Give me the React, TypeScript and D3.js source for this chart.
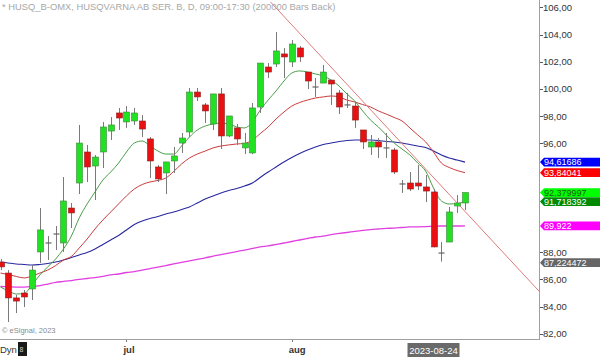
import React from "react";
import * as d3 from "d3";

// ---- data (prices) ----
const opens = [87.27, 86.46, 84.63, 84.99, 85.29, 88.01, 88.65, 89.31, 88.67, 91.24, 93.08, 95.36, 94.33, 95.36, 96.9, 98.23, 97.57, 97.64, 97.64, 96.32, 94.26, 93.82, 94.7, 96.02, 96.83, 99.77, 98.82, 97.42, 99.63, 96.54, 97.13, 95.66, 95.29, 98.67, 101.61, 101.83, 102.57, 101.98, 103.01, 101.24, 100.16, 100.43, 100.65, 99.7, 98.84, 98.74, 96.98, 95.73, 96.1, 95.68, 95.51, 93.03, 93.08, 93.08, 92.79, 92.42, 87.95, 88.74, 91.39, 91.61];
const highs = [87.49, 86.68, 84.85, 85.21, 87.05, 91.24, 89.18, 89.92, 93.52, 91.61, 97.35, 95.88, 95.14, 97.57, 97.93, 98.6, 98.74, 98.6, 98.08, 96.46, 94.4, 94.63, 95.73, 96.76, 100.07, 100.07, 98.96, 99.63, 100.07, 98.01, 97.42, 96.76, 98.96, 101.9, 101.9, 104.18, 103.01, 103.6, 103.15, 101.24, 100.8, 101.76, 100.65, 99.92, 99.7, 99.04, 96.98, 96.61, 96.39, 96.76, 95.66, 93.3, 93.89, 94.4, 93.67, 92.64, 88.74, 91.32, 92.2, 92.38];
const lows = [86.68, 82.86, 83.52, 83.96, 84.48, 87.2, 87.42, 88.15, 88.01, 89.77, 92.27, 93.15, 91.83, 94.18, 96.24, 96.98, 97.13, 97.35, 96.46, 93.45, 93.15, 92.27, 93.82, 95.29, 96.46, 99.11, 97.49, 96.98, 95.58, 96.46, 95.88, 95.21, 95.2, 98.23, 100.8, 101.61, 100.8, 101.61, 101.98, 99.99, 99.41, 100.43, 98.82, 98.15, 98.6, 97.13, 95.58, 95.14, 94.92, 94.92, 93.74, 92.35, 92.49, 92.57, 91.68, 88.35, 87.3, 88.74, 90.88, 91.1];
const closes = [86.91, 84.63, 84.4, 84.7, 86.68, 89.63, 88.69, 89.35, 91.76, 90.88, 96.02, 94.26, 94.99, 97.2, 97.35, 97.86, 98.3, 98.23, 97.05, 94.7, 93.38, 94.63, 95.07, 96.39, 99.77, 99.41, 98.38, 99.63, 96.54, 98.01, 96.32, 96.02, 98.6, 101.9, 101.24, 102.79, 102.35, 103.3, 102.35, 100.58, 100.12, 101.24, 100.36, 98.67, 98.8, 97.71, 96.1, 96.1, 95.73, 95.64, 93.89, 92.99, 92.64, 92.86, 92.49, 88.38, 87.91, 90.95, 91.61, 92.38];

const maGreen = [85.43, 85.14, 84.92, 84.96, 85.58, 86.32, 86.91, 87.49, 88.23, 89.18, 90.51, 91.54, 92.42, 93.3, 93.89, 94.55, 95.36, 96.02, 96.17, 95.8, 95.43, 95.21, 95.21, 95.8, 96.46, 96.98, 97.27, 97.42, 97.49, 97.42, 97.2, 97.13, 97.57, 98.45, 99.18, 99.85, 100.58, 101.17, 101.32, 101.24, 101.1, 100.95, 100.65, 100.21, 99.63, 99.11, 98.38, 97.71, 97.2, 96.61, 96.02, 95.58, 95.14, 94.55, 93.96, 92.71, 91.76, 91.54, 91.57, 91.718];
const maRed = [86.46, 86.35, 86.21, 86.1, 86.24, 86.46, 86.68, 87.01, 87.42, 87.68, 88.3, 88.96, 89.7, 90.36, 90.95, 91.54, 92.13, 92.64, 92.97, 93.16, 93.27, 93.45, 93.93, 94.48, 94.92, 95.21, 95.43, 95.66, 95.8, 95.88, 95.95, 95.99, 96.24, 96.72, 97.2, 97.79, 98.3, 98.74, 99.0, 99.18, 99.33, 99.41, 99.48, 99.41, 99.18, 99.04, 98.85, 98.67, 98.38, 98.15, 97.9, 97.64, 97.13, 96.61, 96.1, 95.36, 94.55, 94.22, 94.0, 93.84];
const maBlue = [87.27, 87.2, 87.13, 87.09, 87.05, 87.09, 87.16, 87.27, 87.42, 87.6, 87.79, 87.97, 88.23, 88.56, 88.89, 89.22, 89.63, 90.03, 90.29, 90.47, 90.62, 90.8, 90.95, 91.13, 91.32, 91.61, 91.9, 92.13, 92.35, 92.53, 92.68, 92.86, 93.08, 93.49, 93.89, 94.26, 94.63, 94.96, 95.25, 95.51, 95.73, 95.91, 96.02, 96.13, 96.21, 96.24, 96.24, 96.24, 96.21, 96.13, 96.1, 96.02, 95.91, 95.8, 95.69, 95.43, 95.14, 94.92, 94.77, 94.617];
const maMagenta = [85.47, 85.45, 85.43, 85.43, 85.47, 85.54, 85.65, 85.77, 85.84, 85.91, 85.99, 86.06, 86.13, 86.21, 86.32, 86.39, 86.5, 86.57, 86.68, 86.79, 86.9, 87.01, 87.13, 87.24, 87.35, 87.46, 87.57, 87.71, 87.82, 87.93, 88.04, 88.15, 88.27, 88.38, 88.45, 88.56, 88.67, 88.78, 88.89, 89.0, 89.11, 89.18, 89.29, 89.37, 89.44, 89.52, 89.59, 89.66, 89.7, 89.74, 89.77, 89.81, 89.85, 89.86, 89.88, 89.9, 89.92, 89.92, 89.92, 89.922];

const trendIdx = [34.3, 68.5];
const trendPrice = [106.39, 85.07];

const yTicks = [82, 84, 86, 88, 96, 98, 100, 102, 104, 106];
const monthLabels = ["jul", "aug"];
const monthIdx = [16, 37];
const cursorIdx = 55;
const cursorLabel = "2023-08-24";

const labelValues = [94.61686, 93.84041, 92.379997, 91.718392, 89.922, 87.224472];
const labelFills = ["#0000ff", "#ff0000", "#00ff00", "#008a00", "#ff00ff", "#666666"];
const labelText = ["#ffffff", "#ffffff", "#1a5a1a", "#ffffff", "#ffffff", "#ffffff"];

const title = "* HUSQ_B-OMX, HUSQVARNA AB SER. B, D, 09:00-17:30 (200000 Bars Back)";

export default function App() {
  const W = 600, H = 357;
  const plotR = 539, plotB = 339;
  const x = d3.scaleLinear().domain([0, 59]).range([0.5, 465]);
  const y = d3.scaleLinear().domain([82, 106]).range([333.7, 7.3]);
  const idx = d3.range(opens.length);
  const line = (vals: number[]) =>
    d3.line<number>().x((_, i) => x(i)).y((v) => y(v)).curve(d3.curveMonotoneX)(vals) || "";
  const font = "'Liberation Sans', Arial, sans-serif";
  const bw = 6;
  const fmt = (v: number) => String(v).replace(".", ",");

  return (
    <svg width={W} height={H} style={{ position: "fixed", left: 0, top: 0, background: "#fff" }} fontFamily={font}>
      <defs>
        <clipPath id="plot">
          <rect x={0} y={0} width={plotR} height={plotB} />
        </clipPath>
      </defs>
      <rect x={0} y={0} width={W} height={H} fill="#fff" />
      <g clipPath="url(#plot)">
        <path d={line(maMagenta)} fill="none" stroke="#e040e0" strokeWidth={1.3} />
        <path d={line(maBlue)} fill="none" stroke="#2828a0" strokeWidth={1.1} />
        <path d={line(maRed)} fill="none" stroke="#c83c3c" strokeWidth={1} />
        <path d={line(maGreen)} fill="none" stroke="#4a9e4a" strokeWidth={1} />
        <line x1={x(trendIdx[0])} y1={y(trendPrice[0])} x2={x(trendIdx[1])} y2={y(trendPrice[1])} stroke="#e07a7a" strokeWidth={1} />
        {idx.map((i) => {
          const o = opens[i], c = closes[i], h = highs[i], l = lows[i];
          const cx = Math.round(x(i)) + 0.5;
          const top = y(Math.max(o, c)), bot = y(Math.min(o, c));
          const up = c > o;
          const doji = Math.abs(bot - top) < 1.2;
          return (
            <g key={i}>
              <line x1={cx} x2={cx} y1={y(h)} y2={y(l)} stroke="#7a7a7a" strokeWidth={1} />
              {doji ? (
                <line x1={cx - bw / 2} x2={cx + bw / 2} y1={(top + bot) / 2} y2={(top + bot) / 2} stroke="#666" strokeWidth={1.2} />
              ) : (
                <rect x={cx - bw / 2} y={top} width={bw} height={bot - top}
                  fill={up ? "#22e022" : "#e81010"} stroke={up ? "#3d8a3d" : "#8a2020"} strokeWidth={0.6} />
              )}
            </g>
          );
        })}
      </g>
      {/* title */}
      <text x={2} y={10} fontSize={9.4} fill="#a8a8a8">{title}</text>
      <text x={2} y={333} fontSize={7.5} fill="#8a8a8a">© eSignal, 2023</text>
      {/* frame */}
      <line x1={plotR + 0.5} x2={plotR + 0.5} y1={0} y2={plotB + 1} stroke="#a0a0a0" strokeWidth={1} />
      <line x1={0} x2={plotR + 1} y1={plotB + 0.5} y2={plotB + 0.5} stroke="#a0a0a0" strokeWidth={1} />
      {/* y axis */}
      {yTicks.map((t) => (
        <g key={t}>
          <line x1={plotR + 1} x2={plotR + 4} y1={Math.round(y(t)) + 0.5} y2={Math.round(y(t)) + 0.5} stroke="#555" />
          <text x={plotR + 4} y={y(t) + 3.5} fontSize={9.5} fill="#333">{t.toFixed(2).replace(".", ",")}</text>
        </g>
      ))}
      {labelValues.map((v, i) => {
        const yy = y(v);
        const hh = 4.4;
        return (
          <g key={i}>
            <path d={`M${plotR + 1},${yy} L${plotR + 5},${yy - hh} L${W},${yy - hh} L${W},${yy + hh} L${plotR + 5},${yy + hh} Z`} fill={labelFills[i]} />
            <text x={plotR + 5} y={yy + 3.2} fontSize={9} fill={labelText[i]}>{fmt(v)}</text>
          </g>
        );
      })}
      {/* x axis */}
      {monthLabels.map((m, i) => (
        <g key={m}>
          <line x1={Math.round(x(monthIdx[i])) + 0.5} x2={Math.round(x(monthIdx[i])) + 0.5} y1={plotB + 1} y2={plotB + 3} stroke="#777" />
          <text x={x(monthIdx[i]) - 3} y={353} fontSize={9.5} fontWeight="bold" fill="#333">{m}</text>
        </g>
      ))}
      <rect x={x(cursorIdx) - 26} y={343} width={52} height={14} fill="#6a6a6a" />
      <text x={x(cursorIdx)} y={353.5} fontSize={9.5} fill="#fff" textAnchor="middle">{cursorLabel}</text>
      <text x={0} y={353} fontSize={9.5} fill="#333">Dyn</text>
      <rect x={18} y={342} width={9} height={14} fill="#1a1a1a" />
      <text x={19.5} y={352} fontSize={7} fill="#ccc">8</text>
    </svg>
  );
}
